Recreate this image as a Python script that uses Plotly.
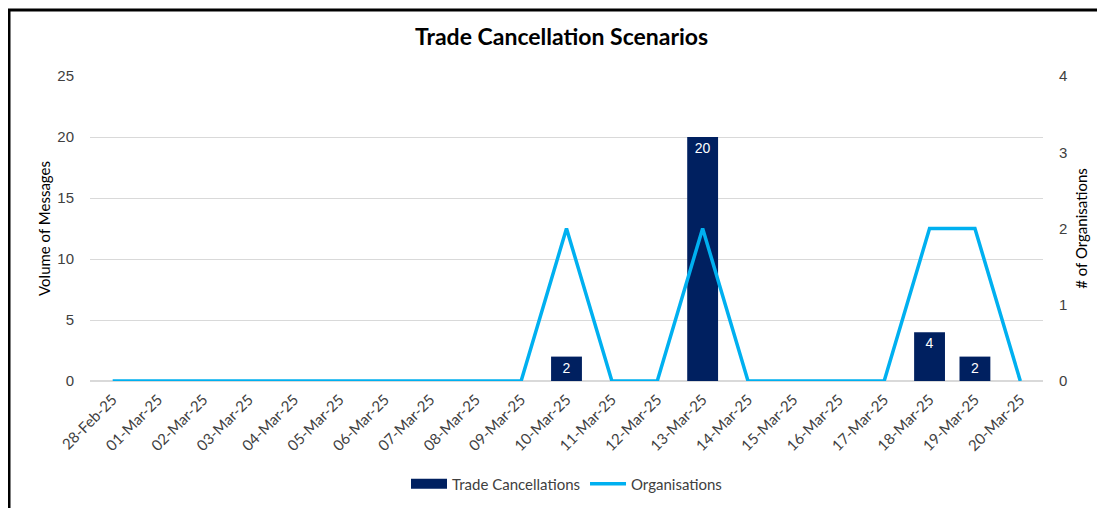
import plotly.graph_objects as go

dates = ["28-Feb-25", "01-Mar-25", "02-Mar-25", "03-Mar-25", "04-Mar-25", "05-Mar-25",
         "06-Mar-25", "07-Mar-25", "08-Mar-25", "09-Mar-25", "10-Mar-25", "11-Mar-25",
         "12-Mar-25", "13-Mar-25", "14-Mar-25", "15-Mar-25", "16-Mar-25", "17-Mar-25",
         "18-Mar-25", "19-Mar-25", "20-Mar-25"]
trade_cancellations = [None, None, None, None, None, None, None, None, None, None, 2, None,
                       None, 20, None, None, None, None, 4, 2, None]
organisations = [0, 0, 0, 0, 0, 0, 0, 0, 0, 0, 2, 0, 0, 2, 0, 0, 0, 0, 2, 2, 0]
left_ticks = [0, 5, 10, 15, 20, 25]
right_ticks = [0, 1, 2, 3, 4]

num_font = "Liberation Sans, Arial, sans-serif"
txt_font = "Lato, Liberation Sans, sans-serif"
BAR_COLOR = "#002060"
LINE_COLOR = "#00B0F0"

fig = go.Figure()
fig.add_trace(go.Bar(
    x=dates, y=trade_cancellations, name="Trade Cancellations",
    marker=dict(color=BAR_COLOR, line=dict(width=0)),
    width=0.68, showlegend=False,
    text=[str(v) if v is not None else "" for v in trade_cancellations],
    textposition="inside", insidetextanchor="end", constraintext="none", textangle=0,
    textfont=dict(color="white", size=14, family=num_font),
    yaxis="y",
))
# legend entry for bars drawn as a wide rectangle (legend only)
fig.add_trace(go.Scatter(
    x=[None], y=[None], name="Trade Cancellations", mode="lines",
    line=dict(color=BAR_COLOR, width=10), yaxis="y", hoverinfo="skip",
))
fig.add_trace(go.Scatter(
    x=dates, y=organisations, name="Organisations", mode="lines",
    line=dict(color=LINE_COLOR, width=3.5),
    yaxis="y2",
))

# page has an 8px body margin; margins compensate for it
fig.update_layout(
    width=1105, height=508,
    margin=dict(l=82, r=70, t=68, b=135, autoexpand=False),
    paper_bgcolor="white", plot_bgcolor="white",
    font=dict(family=num_font, color="#404040", size=13),
    title=dict(text="<b>Trade Cancellation Scenarios</b>", x=0.501, xanchor="center",
               y=0.943, yanchor="middle",
               font=dict(size=23, color="black", family=txt_font)),
    showlegend=True,
    legend=dict(orientation="h", x=0.5, xanchor="center", y=-0.338, yanchor="middle",
                bgcolor="rgba(0,0,0,0)",
                font=dict(size=15, color="#404040", family=txt_font),
                traceorder="normal", itemwidth=36),
    xaxis=dict(type="category", categoryorder="array", categoryarray=dates,
               range=[-0.5, 20.5], tickangle=-45, showgrid=False, showline=False,
               automargin=False, ticklabelstandoff=6,
               ticks="", tickfont=dict(size=15, color="#404040", family=txt_font)),
    yaxis=dict(range=[0, 25], tickvals=left_ticks, showgrid=True, gridcolor="#d9d9d9",
               gridwidth=1, zeroline=True, zerolinecolor="#d9d9d9", showline=False,
               ticks="", ticklabelstandoff=15, automargin=False,
               title=dict(text="Volume of Messages", standoff=3,
                          font=dict(size=15, color="black", family=txt_font)),
               tickfont=dict(size=15, color="#404040")),
    yaxis2=dict(range=[0, 4], tickvals=right_ticks, overlaying="y", side="right",
                showgrid=False, zeroline=False, showline=False, ticks="",
                ticklabelstandoff=15, automargin=False,
                title=dict(text="# of Organisations", standoff=10,
                           font=dict(size=15, color="black", family=txt_font)),
                tickfont=dict(size=15, color="#404040")),
)

fig.add_shape(type="rect", xref="paper", yref="paper",
              x0=-(82 - 1) / 953, x1=1.2, y0=-0.6, y1=1 + (68 - 2) / 305,
              line=dict(color="black", width=3), fillcolor="rgba(0,0,0,0)",
              layer="above")

fig.write_html("out.html")
